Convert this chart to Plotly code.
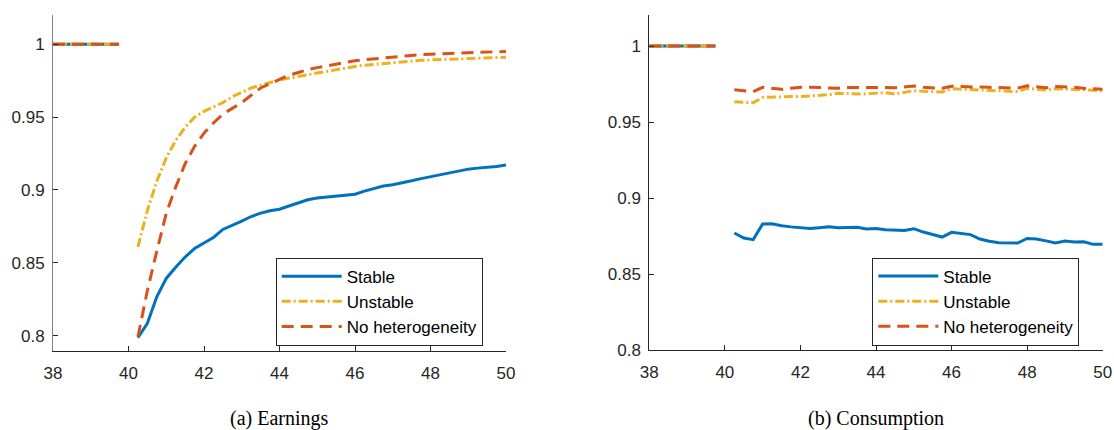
import numpy as np
import plotly.graph_objects as go

# Age grid (quarterly). Age 40 is left empty so the pre-period segment is separate.
ages = np.arange(38.0, 50.0001, 0.25)

# Normalised level before age 40 (same for all three models)
pre_level = [1.0, 1.0, 1.0, 1.0, 1.0, 1.0, 1.0, 1.0]

# Panel (a): earnings, ages 40.25 ... 50
earn_stable = [0.7986, 0.8085, 0.8267, 0.8393, 0.8470, 0.8540, 0.8598, 0.8635,
               0.8674, 0.8729, 0.8755, 0.8786, 0.8818, 0.8841, 0.8858, 0.8868,
               0.8890, 0.8910, 0.8933, 0.8945, 0.8952, 0.8961, 0.8966, 0.8971,
               0.8992, 0.9012, 0.9027, 0.9036, 0.9047, 0.9063, 0.9078, 0.9091,
               0.9102, 0.9114, 0.9128, 0.9143, 0.9150, 0.9154, 0.9162, 0.9171]
earn_unstable = [0.8610, 0.8860, 0.9060, 0.9220, 0.9340, 0.9430, 0.9500, 0.9540,
                 0.9570, 0.9600, 0.9640, 0.9670, 0.9700, 0.9720, 0.9740, 0.9755,
                 0.9768, 0.9780, 0.9790, 0.9800, 0.9812, 0.9825, 0.9840, 0.9848,
                 0.9856, 0.9862, 0.9868, 0.9874, 0.9880, 0.9885, 0.9890, 0.9893,
                 0.9896, 0.9899, 0.9901, 0.9904, 0.9905, 0.9907, 0.9909, 0.9911]
earn_nohet = [0.7993, 0.8310, 0.8580, 0.8840, 0.9020, 0.9180, 0.9300, 0.9390,
              0.9460, 0.9520, 0.9560, 0.9600, 0.9650, 0.9700, 0.9730, 0.9760,
              0.9788, 0.9806, 0.9826, 0.9840, 0.9853, 0.9866, 0.9878, 0.9887,
              0.9894, 0.9900, 0.9908, 0.9915, 0.9920, 0.9924, 0.9929, 0.9932,
              0.9935, 0.9938, 0.9941, 0.9943, 0.9945, 0.9947, 0.9949, 0.9950]

# Panel (b): consumption, ages 40.25 ... 50
cons_stable = [0.8770, 0.8737, 0.8726, 0.8829, 0.8831, 0.8818, 0.8810, 0.8803,
               0.8799, 0.8805, 0.8811, 0.8805, 0.8807, 0.8807, 0.8796, 0.8799,
               0.8791, 0.8787, 0.8787, 0.8798, 0.8776, 0.8760, 0.8743, 0.8774,
               0.8768, 0.8759, 0.8730, 0.8715, 0.8706, 0.8703, 0.8704, 0.8734,
               0.8730, 0.8718, 0.8704, 0.8717, 0.8711, 0.8712, 0.8695, 0.8695]
cons_unstable = [0.9634, 0.9630, 0.9627, 0.9662, 0.9665, 0.9667, 0.9667, 0.9667,
                 0.9670, 0.9673, 0.9680, 0.9689, 0.9688, 0.9686, 0.9684, 0.9690,
                 0.9693, 0.9684, 0.9695, 0.9706, 0.9703, 0.9702, 0.9697, 0.9719,
                 0.9716, 0.9713, 0.9712, 0.9710, 0.9708, 0.9703, 0.9700, 0.9721,
                 0.9714, 0.9710, 0.9719, 0.9717, 0.9715, 0.9712, 0.9708, 0.9706]
cons_nohet = [0.9712, 0.9705, 0.9700, 0.9728, 0.9720, 0.9715, 0.9722, 0.9728,
              0.9729, 0.9728, 0.9725, 0.9722, 0.9727, 0.9728, 0.9726, 0.9727,
              0.9727, 0.9725, 0.9730, 0.9737, 0.9728, 0.9723, 0.9722, 0.9735,
              0.9732, 0.9729, 0.9726, 0.9728, 0.9727, 0.9725, 0.9723, 0.9738,
              0.9733, 0.9726, 0.9733, 0.9731, 0.9729, 0.9722, 0.9717, 0.9715]

series_names = ["Stable", "Unstable", "No heterogeneity"]
x_ticks = [38, 40, 42, 44, 46, 48, 50]
y_ticks = [0.8, 0.85, 0.9, 0.95, 1.0]
y_tick_text = ["0.8", "0.85", "0.9", "0.95", "1"]
captions = ["(a) Earnings", "(b) Consumption"]

colors = ["#0072BD", "#EDB120", "#D95319"]
dashes = ["solid", "9px,3px,2px,3px", "12px,7px"]
widths = [3.0, 3.0, 3.0]

TEXT = "#262626"
SANS = "Liberation Sans, Arial, sans-serif"
W, H = 1114, 430


def full_path(post):
    return pre_level + [None] + post


fig = go.Figure()

panels = [
    ("x", "y", "legend", [earn_stable, earn_unstable, earn_nohet]),
    ("x2", "y2", "legend2", [cons_stable, cons_unstable, cons_nohet]),
]
for xa, ya, lg, data in panels:
    for name, post, c, d, w in zip(series_names, data, colors, dashes, widths):
        fig.add_trace(go.Scatter(
            x=ages, y=full_path(post), mode="lines", name=name,
            line=dict(color=c, dash=d, width=w),
            xaxis=xa, yaxis=ya, legend=lg, connectgaps=False,
        ))

# Panel geometry in pixels
left_x = (53, 506)
right_x = (649.3, 1102.7)
bottom_l, bottom_r, top = 350.7, 350.0, 15.0


def xdom(px):
    return [px[0] / W, px[1] / W]


def ydom(b):
    return [(H - b) / H, (H - top) / H]


axis_common = dict(
    showgrid=False, zeroline=False, showline=True, linewidth=1,
    ticks="inside", ticklen=5, tickwidth=1, tickcolor=TEXT,
    tickfont=dict(family=SANS, size=17, color=TEXT), mirror=False,
    automargin=False,
)

legend_common = dict(
    xanchor="left", yanchor="middle", bgcolor="white",
    bordercolor="#262626", borderwidth=1, itemwidth=60,
    font=dict(family=SANS, size=17, color="black"), tracegroupgap=0,
)

fig.update_layout(
    width=W, height=H,
    margin=dict(l=0, r=0, t=0, b=0, autoexpand=False),
    paper_bgcolor="white", plot_bgcolor="white",
    font=dict(family=SANS, size=17, color=TEXT),
    xaxis=dict(domain=xdom(left_x), range=[38, 50], tickvals=x_ticks,
               linecolor=TEXT, anchor="y", ticklabelstandoff=7, **axis_common),
    yaxis=dict(domain=ydom(bottom_l), range=[0.7897, 1.0201], tickvals=y_ticks,
               ticktext=y_tick_text, linecolor="#7f7f7f", anchor="x",
               ticklabelstandoff=4, **axis_common),
    xaxis2=dict(domain=xdom(right_x), range=[38, 50], tickvals=x_ticks,
                linecolor=TEXT, anchor="y2", ticklabelstandoff=7, **axis_common),
    yaxis2=dict(domain=ydom(bottom_r), range=[0.8, 1.0204], tickvals=y_ticks,
                ticktext=y_tick_text, linecolor=TEXT, anchor="x2",
                ticklabelstandoff=4, **axis_common),
    legend=dict(x=275.7 / W, y=(H - 301.7) / H, **legend_common),
    legend2=dict(x=872.3 / W, y=(H - 301.5) / H, **legend_common),
    showlegend=True,
)

caption_x = [(left_x[0] + left_x[1]) / 2 / W, (right_x[0] + right_x[1]) / 2 / W]
for cx, text in zip(caption_x, captions):
    fig.add_annotation(
        text=text, x=cx, y=(H - 418) / H, xref="paper", yref="paper",
        showarrow=False, xanchor="center", yanchor="middle",
        font=dict(family="Liberation Serif, Times New Roman, serif", size=20, color="black"),
    )

fig.write_html("out.html")
